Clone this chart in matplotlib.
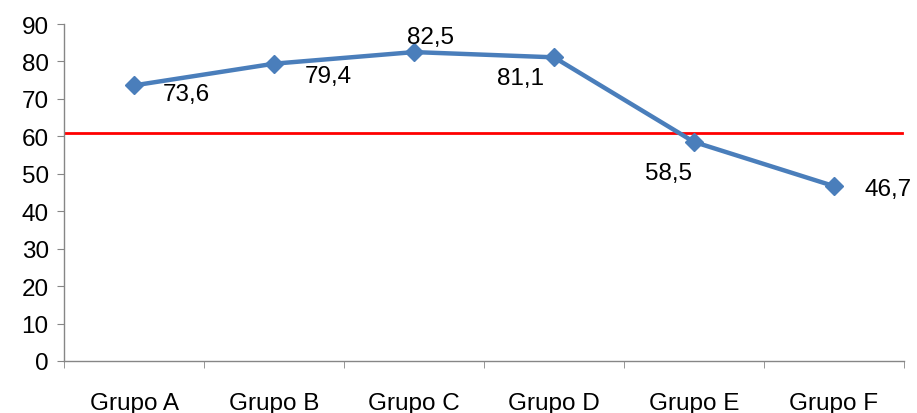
import numpy as np
import matplotlib
matplotlib.use('Agg')
import matplotlib.pyplot as plt

grupos = ['Grupo A', 'Grupo B', 'Grupo C', 'Grupo D', 'Grupo E', 'Grupo F']
valores = [73.6, 79.4, 82.5, 81.1, 58.5, 46.7]
etiquetas = ['73,6', '79,4', '82,5', '81,1', '58,5', '46,7']
referencia = 61

# label offsets in pixels (x right, y up)
offsets = [(52, -9), (54, -12), (17, 15), (-34, -21), (-25, -31), (54, -3)]

plt.rcParams['font.family'] = ['Liberation Sans', 'DejaVu Sans']

fig = plt.figure(figsize=(9.17, 4.14), dpi=100)
ax = fig.add_axes([64 / 917, 1 - 362 / 414, 840 / 917, 337 / 414])

x = np.arange(len(grupos))
ax.plot(x, valores, color='#4A7EBB', linewidth=3.2, marker='D', ms=9.5,
        mfc='#4A7EBB', mec='#4A7EBB', zorder=3, clip_on=False)
ax.axhline(referencia, color='#FF0000', linewidth=2, xmax=838 / 840, zorder=2)

for xi, v, lab, (dx, dy) in zip(x, valores, etiquetas, offsets):
    ax.annotate(lab, (xi, v), xytext=(dx * 0.72, dy * 0.72), textcoords='offset points',
                ha='center', va='center', fontsize=17.5, color='black',
                annotation_clip=False)

ax.set_xlim(-0.5, 5.5)
ax.set_ylim(0, 90)
ax.set_yticks(range(0, 91, 10))
ax.set_xticks(x)
ax.set_xticklabels(grupos)
ax.set_xticks(np.arange(-0.5, 6, 1), minor=True)

for s in ['top', 'right']:
    ax.spines[s].set_visible(False)
for s in ['left', 'bottom']:
    ax.spines[s].set_color('#868686')
    ax.spines[s].set_linewidth(1)

ax.tick_params(axis='y', direction='out', length=5, color='#868686', labelsize=17.5, pad=6)
ax.tick_params(axis='x', which='major', length=0, labelsize=17.5, pad=22)
ax.tick_params(axis='x', which='minor', direction='out', length=5, color='#868686')

plt.savefig('out.png', dpi=100)
